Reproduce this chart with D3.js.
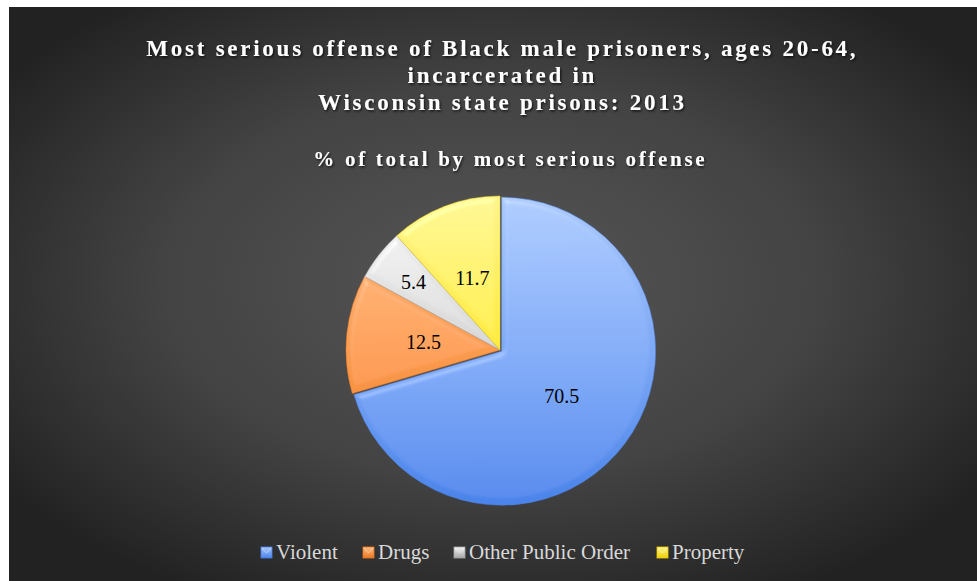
<!DOCTYPE html>
<html>
<head>
<meta charset="utf-8">
<script src="https://cdn.jsdelivr.net/npm/d3@7"></script>
<style>
  html, body { margin: 0; padding: 0; background: #ffffff; }
  svg { display: block; }
</style>
</head>
<body>
<svg id="chart" width="977" height="581"></svg>
<script>
const categories = ["Violent", "Drugs", "Other Public Order", "Property"];
const values = [70.5, 12.5, 5.4, 11.7];
const valueLabels = ["70.5", "12.5", "5.4", "11.7"];
const titleLines = [
  "Most serious offense of Black male prisoners, ages 20-64,",
  "incarcerated in",
  "Wisconsin state prisons: 2013"
];
const subtitle = "% of total by most serious offense";

const colors = {
  "Violent":            { light: "#aac8fb", mid: "#78a5f4", dark: "#4a83ea" },
  "Drugs":              { light: "#ffbb82", mid: "#fa984a", dark: "#ec7822" },
  "Other Public Order": { light: "#f4f4f4", mid: "#d4d4d4", dark: "#a6a6a6" },
  "Property":           { light: "#fff48f", mid: "#ffea36", dark: "#efd000" }
};

const W = 977, H = 581;
const svg = d3.select("#chart");
const defs = svg.append("defs");

// background gradient
const bg = defs.append("radialGradient").attr("id", "bgGrad")
  .attr("cx", "50%").attr("cy", "48%").attr("r", "62%");
bg.append("stop").attr("offset", "0%").attr("stop-color", "#565656");
bg.append("stop").attr("offset", "55%").attr("stop-color", "#434343");
bg.append("stop").attr("offset", "100%").attr("stop-color", "#222222");

// slice gradients
categories.forEach((c, i) => {
  const g = defs.append("linearGradient").attr("id", "sg" + i)
    .attr("gradientUnits", "userSpaceOnUse")
    .attr("x1", 0).attr("y1", -154).attr("x2", 0).attr("y2", 154);
  g.append("stop").attr("offset", "0%").attr("stop-color", colors[c].light);
  g.append("stop").attr("offset", "55%").attr("stop-color", colors[c].mid);
  g.append("stop").attr("offset", "100%").attr("stop-color", colors[c].dark);
  const lg = defs.append("linearGradient").attr("id", "lg" + i)
    .attr("x1", "0").attr("y1", "0").attr("x2", "0").attr("y2", "1");
  lg.append("stop").attr("offset", "0%").attr("stop-color", colors[c].light);
  lg.append("stop").attr("offset", "100%").attr("stop-color", colors[c].dark);
});

// bevel filter
const bevel = defs.append("filter").attr("id", "bevel")
  .attr("x", "-10%").attr("y", "-10%").attr("width", "120%").attr("height", "120%");
bevel.append("feGaussianBlur").attr("in", "SourceAlpha").attr("stdDeviation", 3).attr("result", "blur");
const spec = bevel.append("feSpecularLighting").attr("in", "blur")
  .attr("surfaceScale", 4).attr("specularConstant", 0.55).attr("specularExponent", 20)
  .attr("lighting-color", "#ffffff").attr("result", "spec");
spec.append("fePointLight").attr("x", -4000).attr("y", -8000).attr("z", 9000);
bevel.append("feComposite").attr("in", "spec").attr("in2", "SourceAlpha").attr("operator", "in").attr("result", "specOut");
bevel.append("feComposite").attr("in", "SourceGraphic").attr("in2", "specOut")
  .attr("operator", "arithmetic").attr("k1", 0).attr("k2", 1).attr("k3", 0.3).attr("k4", 0);

// text shadow
const ts = defs.append("filter").attr("id", "tshadow")
  .attr("x", "-5%").attr("y", "-30%").attr("width", "110%").attr("height", "160%");
ts.append("feDropShadow").attr("dx", 1.2).attr("dy", 1.5).attr("stdDeviation", 1)
  .attr("flood-color", "#000").attr("flood-opacity", 0.7);

// chart area
svg.append("rect").attr("x", 9).attr("y", 7).attr("width", W - 9).attr("height", H - 7)
  .attr("fill", "url(#bgGrad)");

// titles
const titleG = svg.append("g").attr("filter", "url(#tshadow)")
  .attr("font-family", "'Liberation Serif', 'Times New Roman', serif")
  .attr("font-weight", "bold").attr("fill", "#ffffff").attr("text-anchor", "middle");
const titleY = [56, 83, 110];
const titleTexts = titleLines.map((t, i) =>
  titleG.append("text").attr("x", 501).attr("y", titleY[i])
    .attr("font-size", 23).text(t));
// fit letter spacing so the first line spans the reference width
const natural1 = titleTexts[0].node().getComputedTextLength();
const sp1 = (712 - natural1) / titleLines[0].length;
titleTexts.forEach(t => t.attr("letter-spacing", sp1 + "px").attr("x", 501 + sp1 / 2));

const sub = titleG.append("text").attr("x", 509).attr("y", 166)
  .attr("font-size", 21).text(subtitle);
const naturalS = sub.node().getComputedTextLength();
const spS = (394 - naturalS) / subtitle.length;
sub.attr("letter-spacing", spS + "px").attr("x", 509 + spS / 2);

// pie
const cx = 500, cy = 350, R = 154;
const pie = d3.pie().sort(null).value(d => d.v);
const data = categories.map((c, i) => ({ c, v: values[i], label: valueLabels[i], i }));
const arcs = pie(data);
const arc = d3.arc().innerRadius(0).outerRadius(R);

const pieG = svg.append("g").attr("transform", `translate(${cx},${cy})`);
const explode = [2, 0, 0, 0];
pieG.selectAll("path.slice").data(arcs).enter().append("path")
  .attr("class", "slice")
  .attr("transform", d => {
    const a = (d.startAngle + d.endAngle) / 2;
    const e = explode[d.data.i];
    return `translate(${e * Math.sin(a)},${-e * Math.cos(a)})`;
  })
  .attr("d", arc)
  .attr("fill", d => `url(#sg${d.data.i})`)
  .attr("filter", "url(#bevel)")
  .attr("stroke", d => colors[d.data.c].dark)
  .attr("stroke-width", 0.6)
  .attr("stroke-opacity", 0.8);

const labelFactor = [1, 1, 1.43, 1];
pieG.selectAll("text.lbl").data(arcs).enter().append("text")
  .attr("class", "lbl")
  .attr("transform", d => {
    const [x, y] = arc.centroid(d);
    const f = labelFactor[d.data.i];
    return `translate(${x * f},${y * f})`;
  })
  .attr("dy", "0.35em")
  .attr("text-anchor", "middle")
  .attr("font-family", "'Liberation Serif', 'Times New Roman', serif")
  .attr("font-size", 20)
  .attr("fill", "#000000")
  .text(d => d.data.label);

// legend
const legendX = [261, 363, 454, 657];
const legG = svg.append("g")
  .attr("font-family", "'Liberation Serif', 'Times New Roman', serif")
  .attr("font-size", 21).attr("fill", "#d9d9d9");
categories.forEach((c, i) => {
  const g = legG.append("g").attr("transform", `translate(${legendX[i]},547)`);
  g.append("rect").attr("width", 11).attr("height", 11)
    .attr("fill", `url(#lg${i})`)
    .attr("stroke", colors[c].dark).attr("stroke-width", 0.8);
  g.append("path").attr("d", "M1,1 L5.5,6 L10,1").attr("fill", "none")
    .attr("stroke", "#ffffff").attr("stroke-opacity", 0.5).attr("stroke-width", 0.8);
  g.append("text").attr("x", 15).attr("y", 12).text(c);
});
</script>
</body>
</html>
